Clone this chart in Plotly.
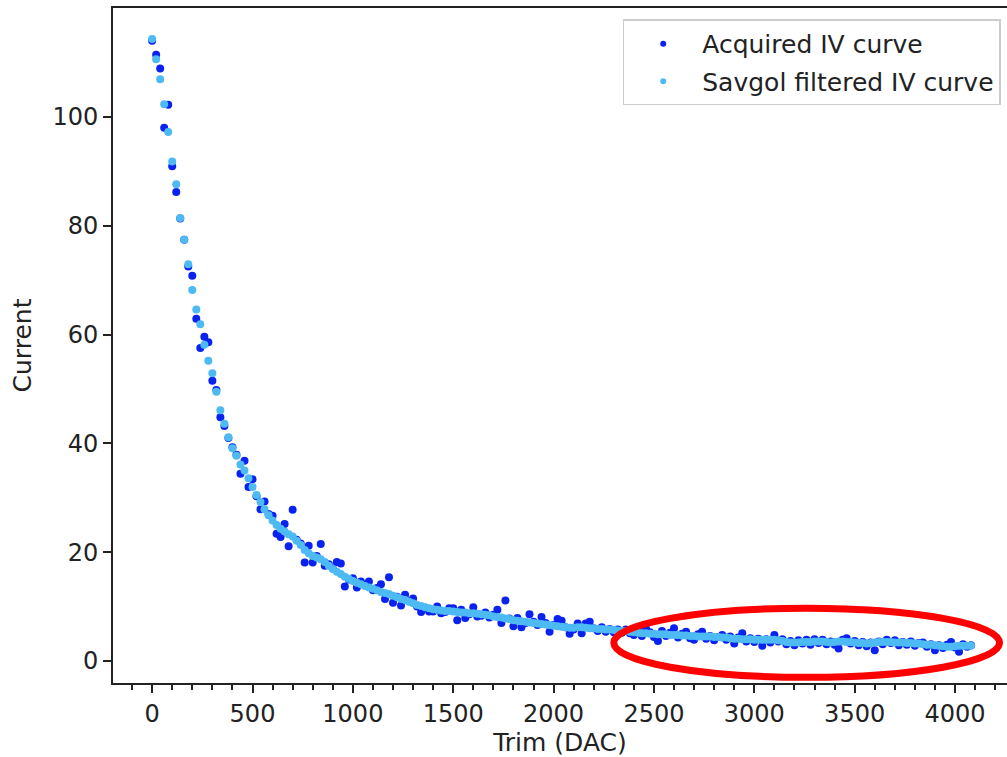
import plotly.graph_objects as go

# ---------------- data ----------------
trim_dac = list(range(0, 4081, 20))  # 205 points

acquired_iv = [
    114.0, 111.4, 108.9, 98.0, 102.2, 90.9, 86.2, 81.3, 77.4, 72.5,
    70.8, 62.9, 57.5, 59.6, 58.6, 51.5, 49.8, 44.8, 43.2, 41.0,
    39.3, 37.9, 34.4, 36.8, 32.0, 33.4, 30.3, 27.9, 29.3, 27.0,
    26.7, 23.4, 22.8, 25.2, 21.1, 27.8, 22.3, 21.6, 18.1, 21.2,
    18.1, 19.3, 21.5, 17.5, 17.8, 17.0, 18.2, 17.9, 13.7, 15.0,
    15.2, 13.5, 14.6, 14.0, 14.6, 13.0, 13.4, 14.1, 11.4, 15.4,
    10.7, 11.8, 10.2, 12.2, 11.0, 11.5, 10.0, 9.0, 9.8, 9.1,
    9.1, 10.0, 8.8, 9.0, 9.7, 9.7, 7.5, 9.4, 7.9, 8.6,
    9.9, 8.2, 8.3, 8.9, 8.0, 8.5, 9.4, 7.0, 11.1, 7.8,
    6.4, 7.9, 6.2, 7.0, 8.6, 7.2, 6.6, 8.1, 7.0, 5.4,
    6.6, 7.7, 7.4, 6.2, 5.0, 5.8, 6.9, 5.1, 6.9, 7.2,
    6.0, 5.5, 6.2, 5.4, 5.9, 5.3, 5.8, 5.2, 5.8, 5.1,
    4.8, 5.8, 4.6, 6.0, 5.3, 4.4, 3.7, 5.5, 4.6, 5.2,
    6.0, 4.3, 5.0, 5.4, 4.2, 3.9, 4.9, 5.4, 4.1, 4.6,
    3.8, 4.4, 4.8, 3.9, 4.5, 3.2, 4.3, 5.1, 3.6, 4.2,
    3.5, 4.1, 2.8, 4.0, 3.4, 4.8, 3.6, 4.0, 3.1, 3.7,
    2.9, 3.8, 3.2, 3.9, 3.0, 4.0, 3.3, 3.9, 3.1, 3.6,
    3.0, 2.3, 3.9, 4.2, 3.2, 3.7, 2.9, 3.5, 2.7, 3.4,
    2.0, 3.6, 3.1, 3.9, 3.3, 3.8, 2.9, 3.5, 3.0, 3.6,
    2.8, 3.3, 3.4, 2.6, 3.1, 2.0, 2.9, 2.4, 3.0, 3.5,
    2.5, 1.7, 3.1, 2.6, 2.9,
]

savgol_iv = [
    114.3, 110.6, 106.9, 102.3, 97.2, 91.8, 87.6, 81.4, 77.4, 72.9,
    68.2, 64.6, 61.9, 58.1, 55.2, 52.9, 49.5, 46.1, 43.6, 41.1,
    39.1, 37.7, 36.1, 35.0, 33.6, 32.0, 30.5, 29.2, 27.9, 26.8,
    25.8, 25.0, 24.3, 23.8, 23.3, 22.9, 22.1, 21.3, 20.4, 19.8,
    19.3, 19.0, 18.7, 18.2, 17.5, 16.9, 16.4, 16.0, 15.5, 15.1,
    14.7, 14.4, 14.1, 13.8, 13.5, 13.3, 13.0, 12.7, 12.5, 12.3,
    12.0, 11.7, 11.4, 11.2, 10.9, 10.6, 10.3, 10.1, 9.9, 9.7,
    9.5, 9.4, 9.3, 9.2, 9.2, 9.1, 9.0, 8.9, 8.9, 8.8,
    8.8, 8.7, 8.6, 8.5, 8.4, 8.2, 8.1, 8.0, 7.8, 7.7,
    7.5, 7.4, 7.3, 7.2, 7.1, 7.0, 6.9, 6.8, 6.7, 6.6,
    6.5, 6.4, 6.3, 6.2, 6.1, 6.1, 6.2, 6.2, 6.1, 6.0,
    6.0, 5.9, 5.9, 5.8, 5.8, 5.7, 5.6, 5.5, 5.5, 5.4,
    5.3, 5.2, 5.1, 5.1, 5.0, 5.0, 4.9, 4.9, 4.9, 4.8,
    4.8, 4.8, 4.7, 4.7, 4.6, 4.6, 4.5, 4.5, 4.5, 4.5,
    4.4, 4.4, 4.3, 4.3, 4.2, 4.1, 4.1, 4.0, 4.0, 4.0,
    3.9, 3.9, 3.9, 3.9, 3.9, 3.9, 3.8, 3.7, 3.5, 3.4,
    3.4, 3.4, 3.5, 3.5, 3.5, 3.6, 3.6, 3.6, 3.5, 3.4,
    3.5, 3.6, 3.6, 3.5, 3.5, 3.4, 3.3, 3.3, 3.2, 3.3,
    3.4, 3.5, 3.5, 3.5, 3.5, 3.4, 3.4, 3.4, 3.3, 3.3,
    3.2, 3.2, 3.1, 3.0, 3.0, 2.9, 2.8, 2.7, 2.6, 2.6,
    2.7, 2.8, 2.8, 2.8, 2.8,
]

series_names = ["Acquired IV curve", "Savgol filtered IV curve"]
x_ticks = [0, 500, 1000, 1500, 2000, 2500, 3000, 3500, 4000]
y_ticks = [0, 20, 40, 60, 80, 100]

# ---------------- style ----------------
DARK = "#0a22f0"
LIGHT = "#4dbaf4"
FONT = "DejaVu Sans"
FS = 24
AX = "#222222"

# highlight ellipse extents (annotation, data units)
ELL_X0, ELL_X1 = 2300, 4222
ELL_Y0, ELL_Y1 = -3.0, 9.7

fig = go.Figure()
fig.add_trace(go.Scatter(x=trim_dac, y=acquired_iv, mode="markers",
                         marker=dict(color=DARK, size=8, line=dict(width=0)),
                         showlegend=False, name=series_names[0]))
fig.add_trace(go.Scatter(x=trim_dac, y=savgol_iv, mode="markers",
                         marker=dict(color=LIGHT, size=8, line=dict(width=0)),
                         showlegend=False, name=series_names[1]))
# legend entries (smaller legend markers)
fig.add_trace(go.Scatter(x=[None], y=[None], mode="markers", name=series_names[0],
                         marker=dict(color=DARK, size=6), legendgroup="a"))
fig.add_trace(go.Scatter(x=[None], y=[None], mode="markers", name=series_names[1],
                         marker=dict(color=LIGHT, size=6), legendgroup="b"))

fig.add_shape(type="circle", xref="x", yref="y",
              x0=ELL_X0, x1=ELL_X1, y0=ELL_Y0, y1=ELL_Y1,
              line=dict(color="#ff0000", width=7))

fig.update_layout(
    width=1007, height=757,
    margin=dict(l=113, r=0, t=8, b=74),
    paper_bgcolor="white", plot_bgcolor="white",
    font=dict(family=FONT, size=FS, color=AX),
    legend=dict(x=0.993, y=0.983, xanchor="right", yanchor="top",
                bgcolor="white", bordercolor="#cccccc", borderwidth=1.5,
                font=dict(size=25, color="#222"), tracegroupgap=2,
                traceorder="grouped", itemwidth=68),
    xaxis=dict(range=[-195, 4259], tickmode="array", tickvals=x_ticks,
               ticktext=[str(v) for v in x_ticks], automargin=False,
               ticks="outside", ticklen=8, tickwidth=2, tickcolor=AX,
               showline=True, linewidth=2, linecolor=AX, mirror=True,
               showgrid=False, zeroline=False,
               minor=dict(dtick=100, tick0=0, ticks="outside", ticklen=5,
                          tickwidth=1.5, tickcolor=AX, showgrid=False),
               title=dict(text="Trim (DAC)", standoff=15, font=dict(size=25))),
    yaxis=dict(range=[-4.04, 120], tickmode="array", tickvals=y_ticks,
               ticktext=[str(v) for v in y_ticks], automargin=False,
               ticks="outside", ticklen=8, tickwidth=2, tickcolor=AX,
               showline=True, linewidth=2, linecolor=AX,
               showgrid=False, zeroline=False,
               title=dict(text="Current", standoff=14, font=dict(size=25))),
)

fig.write_html("out.html")
